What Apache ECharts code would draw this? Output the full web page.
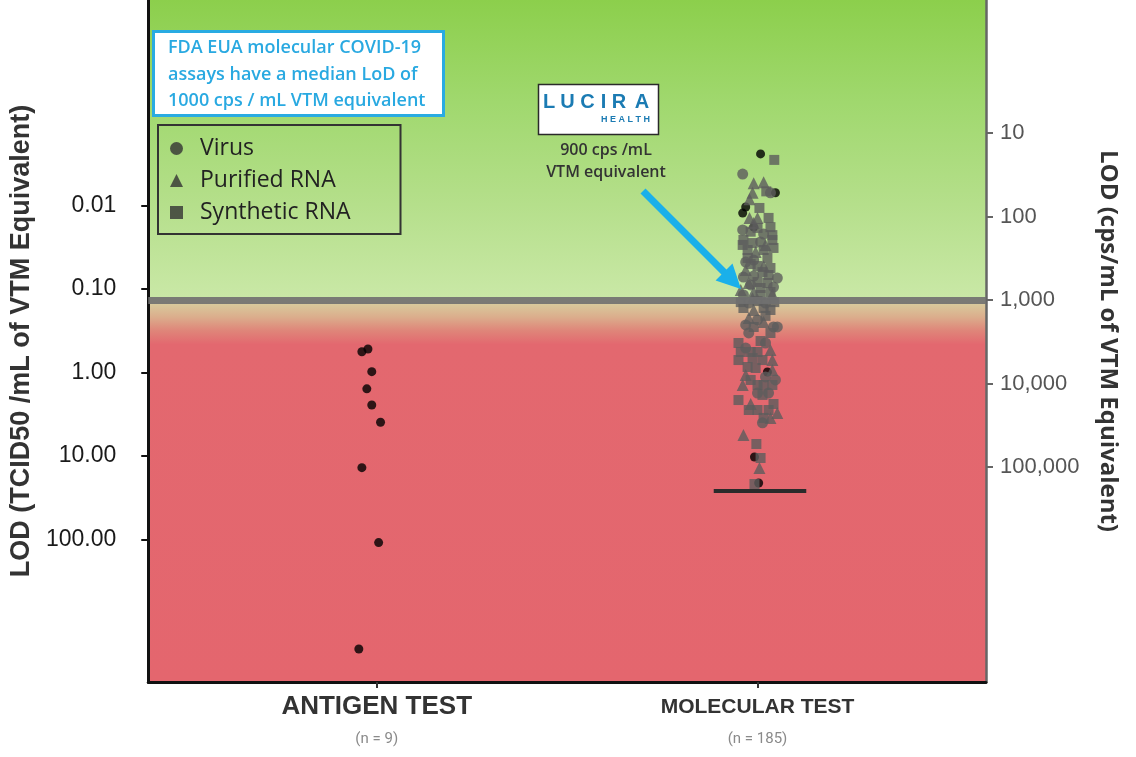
<!DOCTYPE html>
<html><head><meta charset="utf-8">
<script src="https://cdn.jsdelivr.net/npm/echarts@6/dist/echarts.min.js"></script>
<style>html,body{margin:0;padding:0;background:#fff}#c{width:1136px;height:757px}</style>
</head><body><div id="c"></div>
<script>
// ---- data ----
const categories = ['ANTIGEN TEST', 'MOLECULAR TEST'];
const categoryCounts = ['(n = 9)', '(n = 185)'];
const categoryPos = [0, 1];
const leftTicks = [0.01, 0.1, 1, 10, 100];          // TCID50 / mL
const rightTicks = [10, 100, 1000, 10000, 100000];  // cps / mL
const legendNames = ['Virus', 'Purified RNA', 'Synthetic RNA'];

// antigen tests: [jitter x, TCID50/mL]
const antigenPts = [[-0.039,0.564],[-0.023,0.524],[-0.013,0.977],[-0.026,1.57],[-0.013,2.45],
  [0.010,3.95],[-0.039,13.8],[0.005,109],[-0.047,2050]];

// molecular tests: [jitter x, cps/mL]
const virusPts = [[0.961,31],[1.034,52],[0.961,145],[1.016,162],[1.008,202],[0.990,332],[0.963,531],
  [0.990,516],[1.052,546],[1.042,699],[0.963,871],[0.977,1086],[1.021,1086],[0.969,1991],[1.042,2104],
  [1.052,2104],[0.977,2483],[1.021,3273],[1.021,8354],[1.0,13000],[1.029,13000],[0.969,351],[0.982,660],
  [1.0,1735],[0.969,3760],[1.047,9070],[1.013,29600]];
const purifiedPts = [[0.990,40],[1.016,39],[0.987,52],[0.979,62],[0.979,104],[1.0,104],[0.990,120],
  [0.995,266],[1.016,392],[0.977,626],[0.990,802],[1.039,847],[0.987,950],[0.990,1318],[1.016,1834],
  [1.034,3972],[1.039,5236],[1.039,6890],[0.961,10420],[1.052,22570],[1.034,25870],[0.963,41360],
  [1.005,102800],[1.021,219],[0.969,438],[0.956,760],[0.977,1640],[0.969,7900],[0.982,17600]];
const syntheticPts = [[1.044,21],[1.023,50],[1.005,79],[1.029,104],[1.0,137],[1.034,134],[1.039,167],
  [0.963,191],[0.987,208],[0.961,219],[1.039,191],[0.974,252],[1.016,252],[1.042,238],[0.974,314],
  [1.026,314],[0.982,371],[1.013,463],[1.029,502],[1.0,609],[1.026,626],[1.008,718],[1.008,871],
  [0.956,1060],[1.0,1030],[1.044,1060],[0.963,1247],[1.016,1247],[1.034,1318],[0.990,2104],[1.034,2483],
  [0.950,3273],[0.956,4197],[0.982,4197],[0.950,5236],[0.987,4955],[1.013,5236],[0.974,6346],[0.995,6522],
  [1.0,10420],[1.016,10420],[1.039,10420],[0.950,15780],[0.977,20770],[1.0,20770],[1.029,20770],
  [1.016,25870],[0.997,53050],[1.008,78000],[0.992,160000],[0.982,152],[1.0,392],[1.034,414],[1.034,802],
  [1.021,1550],[1.008,3100],[1.0,4197],[0.982,9070],[1.013,13700],[1.042,17600]];
const blackPts = [[1.008,17.8],[1.047,52],[0.969,77],[0.961,91],[0.990,134],[1.026,7280],[0.992,75900],[1.003,155500]];

const medianLoD = 1000;                                  // cps/mL
const floorBar = [[0.885,193600],[1.128,193600]];       // lower bound segment

// ---- chart ----
const chart = echarts.init(document.getElementById('c'));
const G = echarts.graphic;
const bg = new G.LinearGradient(0, 0, 0, 1, [
  {offset:0, color:'#8ccf4c'},
  {offset:0.15, color:'#a0d86e'},
  {offset:0.30, color:'#b5df8b'},
  {offset:0.435, color:'#c9e8a6'},
  {offset:0.442, color:'#d8cf9f'},
  {offset:0.465, color:'#dbad8c'},
  {offset:0.485, color:'#df8579'},
  {offset:0.505, color:'#e3686f'},
  {offset:1, color:'#e4666e'}
]);
const grayPt = '#5c5c5c';

// Arrow geometry (annotation)
const aS = [643,191], aT = [741,289];
const ux = (aT[0]-aS[0]), uy = (aT[1]-aS[1]), ul = Math.hypot(ux,uy);
const nx = ux/ul, ny = uy/ul, hl = 24, hw = 12;
const bx = aT[0]-hl*nx, by = aT[1]-hl*ny;

const luciraLetters = ['L','U','C','I','R','A'];
const luciraX = [549,567.5,587.5,603.5,619,642];

chart.setOption({
  animation: false,
  grid: {left:145, right:150, top:0, bottom:75, show:true, backgroundColor:bg, borderWidth:0},
  legend: {
    orient:'vertical', left:158, top:125, padding:[12,50,10,12],
    itemWidth:13, itemHeight:13, itemGap:9,
    borderColor:'#333', borderWidth:2, backgroundColor:'transparent',
    selectedMode:false,
    textStyle:{fontSize:23, color:'#222', fontFamily:'Open Sans', lineHeight:23, padding:[0,0,0,12]},
    data: [
      {name:legendNames[0], icon:'circle', itemStyle:{color:'#333'}},
      {name:legendNames[1], icon:'triangle', itemStyle:{color:'#333'}},
      {name:legendNames[2], icon:'rect', itemStyle:{color:'#333'}}
    ]
  },
  xAxis: {
    type:'value', min:-0.6, max:1.6,
    axisLine:{show:true, onZero:false, lineStyle:{color:'#111', width:3}},
    axisTick:{show:true, customValues:categoryPos, length:6, lineStyle:{color:'#333', width:2}},
    splitLine:{show:false},
    axisLabel:{
      customValues:categoryPos, margin:8,
      formatter: v => {
        const i = Math.round(v);
        return '{' + (i===0?'a':'m') + '|' + categories[i] + '}\n{n|' + categoryCounts[i] + '}';
      },
      rich:{
        a:{fontSize:26, fontWeight:'bold', color:'#333', fontFamily:'Liberation Sans', lineHeight:34},
        m:{fontSize:21, fontWeight:'bold', color:'#333', fontFamily:'Liberation Sans', lineHeight:34},
        n:{fontSize:15, color:'#8a8a8a', fontFamily:'Roboto', lineHeight:30}
      }
    }
  },
  yAxis: [
    {
      type:'log', logBase:10, inverse:true, min:3.46e-5, max:5093, position:'left',
      axisLine:{show:true, onZero:false, lineStyle:{color:'#111', width:3}},
      axisTick:{show:true, customValues:leftTicks, length:7, lineStyle:{color:'#111', width:2}},
      minorTick:{show:false}, splitLine:{show:false},
      axisLabel:{customValues:leftTicks, formatter: v => Number(v).toFixed(2), fontSize:23,
        color:'#1a1a1a', margin:32, fontFamily:'Liberation Sans'},
      name:'LOD (TCID50 /mL of VTM Equivalent)', nameLocation:'middle', nameGap:108,
      nameTextStyle:{fontSize:27, fontWeight:'bold', color:'#333', fontFamily:'Liberation Sans'}
    },
    {
      type:'log', logBase:10, inverse:true, min:0.2553, max:3.758e7, position:'right',
      axisLine:{show:true, onZero:false, lineStyle:{color:'#666', width:2.5}},
      axisTick:{show:true, customValues:rightTicks, length:7, lineStyle:{color:'#666', width:2}},
      minorTick:{show:false}, splitLine:{show:false},
      axisLabel:{customValues:rightTicks, formatter: v => Math.round(v).toLocaleString('en-US'), fontSize:22,
        color:'#555', margin:14, fontFamily:'Liberation Sans'},
      name:'LOD (cps/mL of VTM Equivalent)', nameLocation:'middle', nameGap:110, nameRotate:-90,
      nameTextStyle:{fontSize:24, fontWeight:'bold', color:'#333', fontFamily:'Open Sans'}
    }
  ],
  series: [
    {name:'Antigen', type:'scatter', yAxisIndex:0, symbol:'circle', symbolSize:9,
      itemStyle:{color:'#000'}, data:antigenPts, silent:true},
    {name:'Molecular virus (black)', type:'scatter', yAxisIndex:1, symbol:'circle', symbolSize:9,
      itemStyle:{color:'#000'}, data:blackPts, silent:true},
    {name:legendNames[0], type:'scatter', yAxisIndex:1, symbol:'circle', symbolSize:11,
      itemStyle:{color:grayPt}, data:virusPts, silent:true},
    {name:legendNames[1], type:'scatter', yAxisIndex:1, symbol:'triangle', symbolSize:12,
      itemStyle:{color:grayPt}, data:purifiedPts, silent:true},
    {name:legendNames[2], type:'scatter', yAxisIndex:1, symbol:'rect', symbolSize:10,
      itemStyle:{color:grayPt}, data:syntheticPts, silent:true,
      markLine:{
        silent:true, symbol:['none','none'], label:{show:false},
        data:[
          {yAxis:medianLoD, lineStyle:{color:'#707070', width:7, type:'solid', opacity:0.9}},
          [{coord:floorBar[0], lineStyle:{color:'#2b2b2b', width:4, type:'solid'}}, {coord:floorBar[1]}]
        ]
      }}
  ],
  graphic: [
    {type:'rect', z:10, shape:{x:153.5, y:31.5, width:290, height:84},
      style:{fill:'#fff', stroke:'#29abe2', lineWidth:3}},
    {type:'text', z:11, style:{x:168, y:35, verticalAlign:'top',
      text:'FDA EUA molecular COVID-19\nassays have a median LoD of\n1000 cps / mL VTM equivalent',
      fill:'#29a9e1', font:'600 18px "Open Sans"', lineHeight:26.5}},
    {type:'rect', z:10, shape:{x:538.5, y:84.5, width:120, height:50},
      style:{fill:'#fff', stroke:'#2a2a2a', lineWidth:1.5}},
    ...luciraLetters.map((ch,i) => ({type:'text', z:11, style:{x:luciraX[i], y:102, text:ch,
      align:'center', verticalAlign:'middle', fill:'#1b7bb3', font:'bold 20px "Liberation Sans"'}})),
    {type:'text', z:11, style:{x:650, y:120, text:'H E A L T H', align:'right', verticalAlign:'middle',
      fill:'#1b7bb3', font:'bold 9px "Liberation Sans"'}},
    {type:'text', z:11, style:{x:606, y:150, text:'900 cps /mL', align:'center', verticalAlign:'middle',
      fill:'#333', font:'600 16px "Open Sans"'}},
    {type:'text', z:11, style:{x:606, y:172, text:'VTM equivalent', align:'center', verticalAlign:'middle',
      fill:'#333', font:'600 16px "Open Sans"'}},
    {type:'line', z:11, shape:{x1:aS[0], y1:aS[1], x2:bx+2*nx, y2:by+2*ny},
      style:{stroke:'#1ab0ea', lineWidth:7}},
    {type:'polygon', z:11, shape:{points:[aT, [bx-hw*ny, by+hw*nx], [bx+hw*ny, by-hw*nx]]},
      style:{fill:'#1ab0ea'}}
  ]
});
</script></body></html>
